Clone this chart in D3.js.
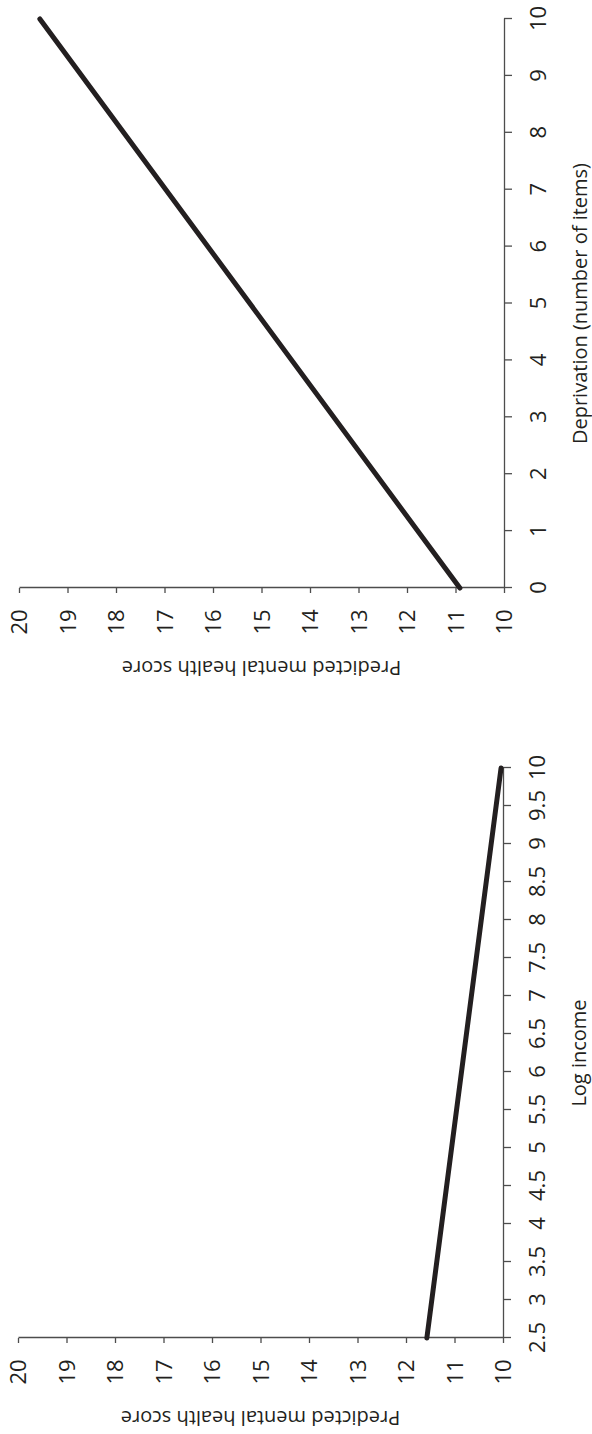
<!DOCTYPE html>
<html>
<head>
<meta charset="utf-8">
<script src="https://cdn.jsdelivr.net/npm/d3@7"></script>
<style>
  body { margin: 0; background: #fff; }
  text { font-family: "Open Sans", sans-serif; fill: #231f20; }
</style>
</head>
<body>
<div id="app"></div>
<script>
const width = 592,
    height = 1434;

// panel 1: log income
const incomeX = [2.5, 10];
const incomeY = [11.57, 10.04];
const incomeTicks = d3.range(2.5, 10.01, 0.5);

// panel 2: deprivation
const deprivX = [0, 10];
const deprivY = [10.91, 19.57];
const deprivTicks = d3.range(0, 11, 1);

const scoreTicks = d3.range(10, 21, 1);

const svg = d3.select("#app")
    .append("svg")
    .attr("width", width)
    .attr("height", height);

// the whole figure is turned a quarter turn counter-clockwise
const root = svg.append("g")
    .attr("transform", "translate(0," + height + ") rotate(-90)");

function panel(opts) {
    const x = d3.scaleLinear().domain(opts.xDomain).range(opts.xRange);
    const y = d3.scaleLinear().domain([10, 20]).range(opts.yRange);
    const g = root.append("g");

    //X-Axis
    const xa = g.append("g")
        .attr("transform", "translate(0," + opts.yRange[0] + ")")
        .call(d3.axisBottom(x).tickValues(opts.xTicks).tickSize(8).tickSizeOuter(0)
            .tickFormat(d3.format("~g")));
    xa.selectAll("text").attr("y", 34).attr("dy", "0.35em").style("font-size", "22px");

    //Y-Axis
    const ya = g.append("g")
        .attr("transform", "translate(" + opts.xRange[0] + ",0)")
        .call(d3.axisLeft(y).tickValues(scoreTicks).tickSize(5).tickSizeOuter(0));
    ya.selectAll("text").attr("x", -34).attr("dy", "0.35em")
        .attr("text-anchor", "middle").style("font-size", "22px");

    g.selectAll(".domain, .tick line").attr("stroke", "#4d4d4d").attr("stroke-width", 1.3);
    g.selectAll(".tick text").attr("fill", "#231f20");

    g.append("text")
        .attr("x", (opts.xRange[0] + opts.xRange[1]) / 2)
        .attr("y", opts.yRange[0] + 76)
        .attr("dy", "0.35em")
        .attr("text-anchor", "middle")
        .style("font-size", "20px")
        .text(opts.xTitle);

    g.append("text")
        .attr("transform", "translate(" + (opts.xRange[0] - 80) + "," + (opts.yRange[0] + opts.yRange[1]) / 2 + ") rotate(-90)")
        .attr("dy", "0.35em")
        .attr("text-anchor", "middle")
        .style("font-size", "20px")
        .text("Predicted mental health score");

    const pts = opts.xs.map((d, i) => [x(d), y(opts.ys[i])]);
    g.append("path")
        .attr("d", d3.line()(pts))
        .attr("fill", "none")
        .attr("stroke", "#231f20")
        .attr("stroke-width", 5)
        .attr("stroke-linecap", "round");
}

panel({
    xDomain: [2.5, 10], xRange: [96, 666], yRange: [503, 18],
    xTicks: incomeTicks, xs: incomeX, ys: incomeY, xTitle: "Log income"
});

panel({
    xDomain: [0, 10], xRange: [846, 1415], yRange: [504, 19],
    xTicks: deprivTicks, xs: deprivX, ys: deprivY, xTitle: "Deprivation (number of items)"
});
</script>
</body>
</html>
